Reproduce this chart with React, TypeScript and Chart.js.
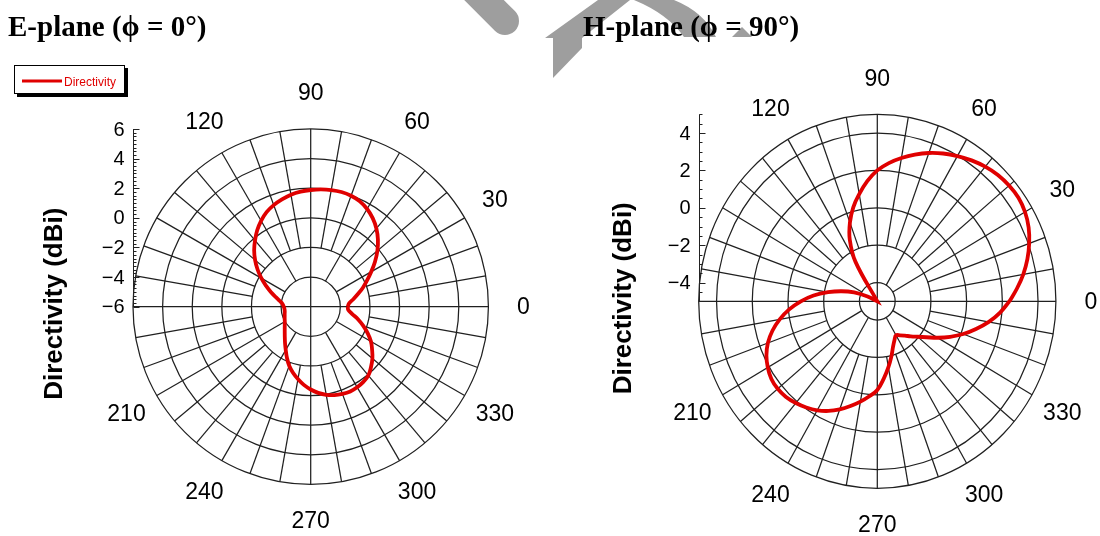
import React, { useEffect, useRef } from "react";
import { Chart, registerables } from "chart.js";

Chart.register(...registerables);

// Sampling angles in degrees (0° on the right, counter-clockwise)
const angles = [
  0, 5, 10, 15, 20, 25, 30, 35, 40, 45, 50, 55, 60, 65, 70, 75, 80, 85,
  90, 95, 100, 105, 110, 115, 120, 125, 130, 135, 140, 145, 150, 155, 160, 165, 170, 175,
  180, 185, 190, 195, 200, 205, 210, 215, 220, 225, 230, 235, 240, 245, 250, 255, 260, 265,
  270, 275, 280, 285, 290, 295, 300, 305, 310, 315, 320, 325, 330, 335, 340, 345, 350, 355,
];

// Directivity (dBi) in the E-plane, phi = 0°
const ePlaneDirectivity = [
  -3.5, -3.4, -3.08, -2.7, -2.25, -1.8, -1.28, -0.7, -0.12, 0.42, 0.9, 1.3, 1.62, 1.85, 1.97, 2.02, 2.0, 1.95,
  1.88, 1.8, 1.68, 1.5, 1.3, 1.05, 0.7, 0.3, -0.15, -0.6, -1.1, -1.62, -2.15, -2.68, -3.15, -3.58, -3.9, -4.1,
  -4.18, -4.22, -4.22, -4.18, -4.13, -4.06, -3.98, -3.86, -3.71, -3.52, -3.28, -2.98, -2.63, -2.2, -1.76, -1.38, -1.04, -0.7,
  -0.41, -0.16, 0.04, 0.18, 0.27, 0.32, 0.28, 0.2, 0.06, -0.24, -0.56, -0.94, -1.3, -1.75, -2.22, -2.68, -3.15, -3.45,
];

// Directivity (dBi) in the H-plane, phi = 90°
const hPlaneDirectivity = [
  2.4, 2.85, 3.3, 3.7, 4.05, 4.35, 4.55, 4.65, 4.63, 4.55, 4.4, 4.2, 3.97, 3.72, 3.44, 3.12, 2.78, 2.42,
  2.0, 1.45, 0.82, 0.2, -0.52, -1.35, -2.55, -9, -14, -18, -16, -12, -8, -4.4, -3.62, -2.92, -2.2, -1.42,
  -0.72, -0.05, 0.55, 1.08, 1.52, 1.85, 2.08, 2.24, 2.28, 2.23, 2.1, 1.93, 1.73, 1.47, 1.15, 0.8, 0.45, 0.1,
  -0.26, -0.85, -1.42, -1.95, -2.42, -2.72, -2.9, -2.78, -2.6, -2.35, -2.05, -1.65, -1.1, -0.5, 0.12, 0.72, 1.34, 1.9,
];

// Angular tick labels
const angleTickValues = [0, 30, 60, 90, 120, 210, 240, 270, 300, 330];
const angleTickLabels = ["0", "30", "60", "90", "120", "210", "240", "270", "300", "330"];

// Radial axis ticks and grid circles (dBi)
const eRadialTicks = [-6, -4, -2, 0, 2, 4, 6];
const eGridCircles = [-4, -2, 0, 2, 4, 6];
const hRadialTicks = [-4, -2, 0, 2, 4];
const hGridCircles = [-4, -2, 0, 2, 4, 5];

const RED = "#e00000";
const GRID = "#202020";
const SANS = '"Liberation Sans", Arial, sans-serif';

type Panel = {
  title: string;
  values: number[];
  rMin: number;
  rMax: number;
  ticks: number[];
  circles: number[];
  minorStep: number;
  left: number;
  padding: { left: number; right: number; top: number; bottom: number };
  titleX: number;
  axisTitleX: number;
  legend: boolean;
};

const panels: Panel[] = [
  {
    title: "E-plane (\u03d5 = 0\u00b0)",
    values: ePlaneDirectivity,
    rMin: -6,
    rMax: 6,
    ticks: eRadialTicks,
    circles: eGridCircles,
    minorStep: 0.25,
    left: 0,
    padding: { left: 133, right: 61.6, top: 129, bottom: 51.6 },
    titleX: 8,
    axisTitleX: 62,
    legend: true,
  },
  {
    title: "H-plane (\u03d5 = 90\u00b0)",
    values: hPlaneDirectivity,
    rMin: -5,
    rMax: 5,
    ticks: hRadialTicks,
    circles: hGridCircles,
    minorStep: 0.5,
    left: 550,
    padding: { left: 148.7, right: 44.1, top: 114.3, bottom: 47.7 },
    titleX: 33,
    axisTitleX: 81,
    legend: false,
  },
];

const fmt = (v: number) => (v < 0 ? "\u2212" + Math.abs(v) : String(v));

function makeFramePlugin(p: Panel) {
  const span = p.rMax - p.rMin;
  const rad = (d: number) => (d * Math.PI) / 180;
  return {
    id: "polarFrame",
    beforeDatasetsDraw(chart: any) {
      const { ctx } = chart;
      const xs = chart.scales.x;
      const ys = chart.scales.y;
      const cx = xs.getPixelForValue(0);
      const cy = ys.getPixelForValue(0);
      const pt = (r: number, deg: number) => [
        xs.getPixelForValue(r * Math.cos(rad(deg))),
        ys.getPixelForValue(r * Math.sin(rad(deg))),
      ];
      ctx.save();
      ctx.strokeStyle = GRID;
      ctx.lineWidth = 1.25;
      // grid circles
      p.circles.forEach((c) => {
        const r = c - p.rMin;
        const rx = xs.getPixelForValue(r) - cx;
        const ry = cy - ys.getPixelForValue(r);
        ctx.beginPath();
        ctx.ellipse(cx, cy, rx, ry, 0, 0, Math.PI * 2);
        ctx.stroke();
      });
      // spokes every 10°: axes through the centre, 30° lines from the first
      // circle, the rest from the second circle
      for (let a = 0; a < 360; a += 10) {
        let r0: number;
        if (a % 90 === 0) r0 = 0;
        else if (a % 30 === 0) r0 = p.circles[0] - p.rMin;
        else r0 = p.circles[1] - p.rMin;
        const [x0, y0] = pt(r0, a);
        const [x1, y1] = pt(span, a);
        ctx.beginPath();
        ctx.moveTo(x0, y0);
        ctx.lineTo(x1, y1);
        ctx.stroke();
      }
      ctx.restore();
    },
    afterDraw(chart: any) {
      const { ctx } = chart;
      const xs = chart.scales.x;
      const ys = chart.scales.y;
      const cx = xs.getPixelForValue(0);
      const cy = ys.getPixelForValue(0);
      const Rx = xs.getPixelForValue(span) - cx;
      const Ry = cy - ys.getPixelForValue(span);
      ctx.save();

      // angular labels
      ctx.fillStyle = "#000";
      ctx.font = `23px ${SANS}`;
      ctx.textAlign = "center";
      ctx.textBaseline = "middle";
      angleTickValues.forEach((a, i) => {
        const x = cx + (Rx + 35) * Math.cos(rad(a));
        const y = cy - (Ry + 36) * Math.sin(rad(a));
        ctx.fillText(angleTickLabels[i], x, y + 1);
      });

      // radial axis on the left edge
      const ax = Math.round(xs.getPixelForValue(-span)) + 0.5;
      ctx.strokeStyle = "#222";
      ctx.lineWidth = 1;
      ctx.beginPath();
      ctx.moveTo(ax, ys.getPixelForValue(0));
      ctx.lineTo(ax, ys.getPixelForValue(span));
      ctx.stroke();
      const steps = Math.round(span / p.minorStep);
      for (let k = 0; k <= steps; k++) {
        const v = p.rMin + k * p.minorStep;
        const y = Math.round(ys.getPixelForValue(v - p.rMin)) + 0.5;
        const major = p.ticks.some((t) => Math.abs(t - v) < 1e-6);
        ctx.beginPath();
        ctx.moveTo(ax, y);
        ctx.lineTo(ax + (major ? 6 : 3), y);
        ctx.stroke();
      }
      ctx.font = `20px ${SANS}`;
      ctx.textAlign = "right";
      ctx.textBaseline = "middle";
      p.ticks.forEach((t) => {
        ctx.fillText(fmt(t), ax - 9, ys.getPixelForValue(t - p.rMin) + 1);
      });

      // radial axis title
      ctx.save();
      ctx.translate(p.axisTitleX, cy - 3);
      ctx.rotate(-Math.PI / 2);
      ctx.font = `bold 26px ${SANS}`;
      ctx.textAlign = "center";
      ctx.textBaseline = "alphabetic";
      ctx.fillText("Directivity (dBi)", 0, 0);
      ctx.restore();

      // panel title
      ctx.font = 'bold 29px "Liberation Serif", "Times New Roman", serif';
      ctx.textAlign = "left";
      ctx.textBaseline = "alphabetic";
      ctx.fillText(p.title, p.titleX, 35.5);

      // legend box
      if (p.legend) {
        const ds = chart.data.datasets[0];
        ctx.fillStyle = "#000";
        ctx.fillRect(17, 68, 111, 29);
        ctx.fillStyle = "#fff";
        ctx.fillRect(14, 65, 111, 29);
        ctx.strokeStyle = "#000";
        ctx.lineWidth = 1;
        ctx.strokeRect(14.5, 65.5, 110, 28);
        ctx.strokeStyle = ds.borderColor;
        ctx.lineWidth = 3;
        ctx.beginPath();
        ctx.moveTo(22, 81);
        ctx.lineTo(62, 81);
        ctx.stroke();
        ctx.fillStyle = ds.borderColor;
        ctx.font = `12px ${SANS}`;
        ctx.textAlign = "left";
        ctx.fillText(ds.label, 64, 85.5);
      }
      ctx.restore();
    },
  };
}

function PolarPanel({ panel }: { panel: Panel }) {
  const ref = useRef<HTMLCanvasElement>(null);
  useEffect(() => {
    const canvas = ref.current;
    if (!canvas) return;
    const span = panel.rMax - panel.rMin;
    const points = angles.map((a, i) => {
      const r = Math.max(0, panel.values[i] - panel.rMin);
      const t = (a * Math.PI) / 180;
      return { x: r * Math.cos(t), y: r * Math.sin(t) };
    });
    points.push({ ...points[0] });
    const chart = new Chart(canvas, {
      type: "scatter",
      data: {
        datasets: [
          {
            label: "Directivity",
            data: points,
            showLine: true,
            borderColor: RED,
            backgroundColor: RED,
            borderWidth: 3.8,
            pointRadius: 0,
            tension: 0.4,
            fill: false,
          },
        ],
      },
      options: {
        responsive: false,
        animation: false,
        events: [],
        layout: { padding: panel.padding },
        scales: {
          x: { type: "linear", min: -span, max: span, display: false },
          y: { type: "linear", min: -span, max: span, display: false },
        },
        plugins: { legend: { display: false }, tooltip: { enabled: false } },
      },
      plugins: [makeFramePlugin(panel)],
    });
    return () => chart.destroy();
  }, [panel]);
  return (
    <canvas
      ref={ref}
      width={550}
      height={536}
      style={{ position: "absolute", left: panel.left, top: 0, width: 550, height: 536 }}
    />
  );
}

export default function App() {
  return (
    <div style={{ position: "absolute", left: 0, top: 0, width: 1100, height: 536, background: "#fff", overflow: "hidden" }}>
      <svg width={1100} height={536} style={{ position: "absolute", left: 0, top: 0 }}>
        <g fill="#9e9e9e" stroke="none">
          <line x1={472} y1={-12} x2={505} y2={21} stroke="#9e9e9e" strokeWidth={28} strokeLinecap="round" />
          <path d="M545,38 L598,0 L630,0 L582,38 L582,48 L553,78 L553,38 Z" />
          <path d="M634,0 L674,0 Q704,12 716,37 L684,37 Q668,14 634,0 Z" />
          <path d="M732,37 L742,27 L752,37 Z" />
        </g>
      </svg>
      {panels.map((p) => (
        <PolarPanel key={p.title} panel={p} />
      ))}
    </div>
  );
}
